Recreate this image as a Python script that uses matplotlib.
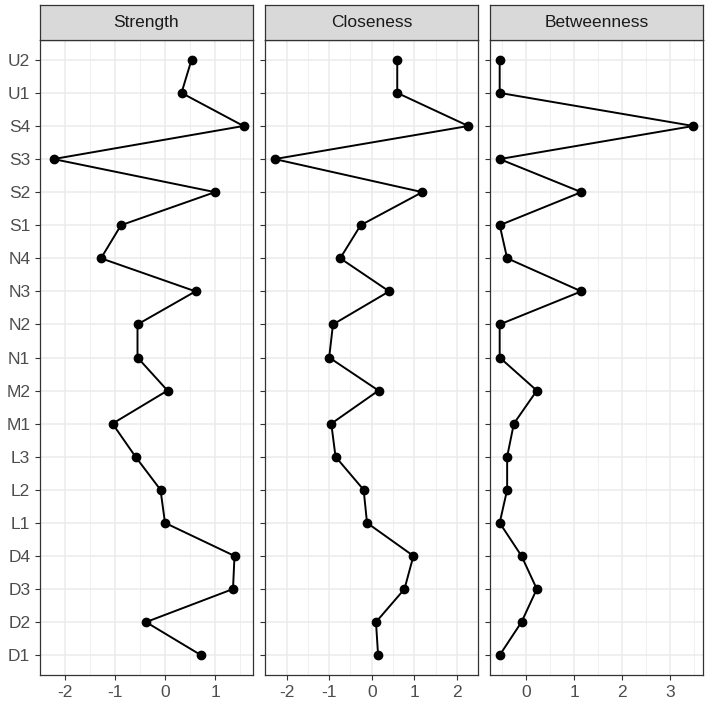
import matplotlib
matplotlib.use('Agg')
import matplotlib.pyplot as plt
import numpy as np

plt.rcParams['font.family'] = ['Liberation Sans', 'DejaVu Sans']

nodes = ['U2', 'U1', 'S4', 'S3', 'S2', 'S1', 'N4', 'N3', 'N2', 'N1',
         'M2', 'M1', 'L3', 'L2', 'L1', 'D4', 'D3', 'D2', 'D1']
strength = [0.53, 0.33, 1.57, -2.23, 1.00, -0.88, -1.28, 0.61, -0.55, -0.55,
            0.05, -1.05, -0.59, -0.09, 0.00, 1.39, 1.36, -0.38, 0.72]
closeness = [0.60, 0.60, 2.27, -2.28, 1.19, -0.26, -0.74, 0.41, -0.91, -1.00,
             0.16, -0.95, -0.85, -0.19, -0.11, 0.98, 0.77, 0.10, 0.15]
betweenness = [-0.556, -0.556, 3.49, -0.556, 1.15, -0.556, -0.40, 1.15, -0.556, -0.556,
               0.22, -0.26, -0.40, -0.40, -0.556, -0.10, 0.22, -0.10, -0.556]
measures = ['Strength', 'Closeness', 'Betweenness']
values = [strength, closeness, betweenness]

W, H = 708, 705
fig = plt.figure(figsize=(W / 100, H / 100), dpi=100)

panel_x = [(40, 253), (265, 478), (490, 703)]
top, bottom, strip_top = 40, 675, 5
ypos = np.arange(len(nodes))[::-1]

for i, (name, vals) in enumerate(zip(measures, values)):
    x0, x1 = panel_x[i]
    ax = fig.add_axes([x0 / W, (H - bottom) / H, (x1 - x0) / W, (bottom - top) / H])
    ax.set_facecolor('white')
    vals = np.array(vals)
    lo, hi = vals.min(), vals.max()
    pad = (hi - lo) * 0.05
    ax.set_xlim(lo - pad, hi + pad)
    ax.set_ylim(-0.6, len(nodes) - 1 + 0.6)

    majors = np.arange(np.ceil(lo - pad), np.floor(hi + pad) + 1)
    minors = np.arange(np.floor(lo - pad) + 0.5, hi + pad, 1.0)
    ax.set_xticks(majors)
    ax.set_xticks(minors, minor=True)
    ax.set_xticklabels([f'{int(m)}' for m in majors])
    ax.set_yticks(ypos)
    if i == 0:
        ax.set_yticklabels(nodes)
    else:
        ax.set_yticklabels([])
        ax.tick_params(axis='y', length=0)

    ax.grid(True, which='major', color='#EBEBEB', linewidth=1.1)
    ax.grid(True, which='minor', axis='x', color='#EEEEEE', linewidth=0.6)
    ax.set_axisbelow(True)
    ax.tick_params(axis='both', which='major', colors='#333333', labelcolor='#4D4D4D',
                   labelsize=12.5, length=3.5, width=0.8)
    ax.tick_params(axis='x', which='minor', length=0)
    for s in ax.spines.values():
        s.set_color('#333333')
        s.set_linewidth(0.9)

    ax.plot(vals, ypos, color='black', linewidth=1.4, zorder=3)
    ax.plot(vals, ypos, 'o', color='black', markersize=6, zorder=4)

    sax = fig.add_axes([x0 / W, (H - top) / H, (x1 - x0) / W, (top - strip_top) / H])
    sax.set_facecolor('#D9D9D9')
    sax.set_xticks([])
    sax.set_yticks([])
    for s in sax.spines.values():
        s.set_color('#333333')
        s.set_linewidth(0.9)
    sax.text(0.5, 0.5, name, ha='center', va='center', fontsize=12.5,
             color='#1A1A1A', transform=sax.transAxes)

fig.savefig('out.png', dpi=100, facecolor='white')
